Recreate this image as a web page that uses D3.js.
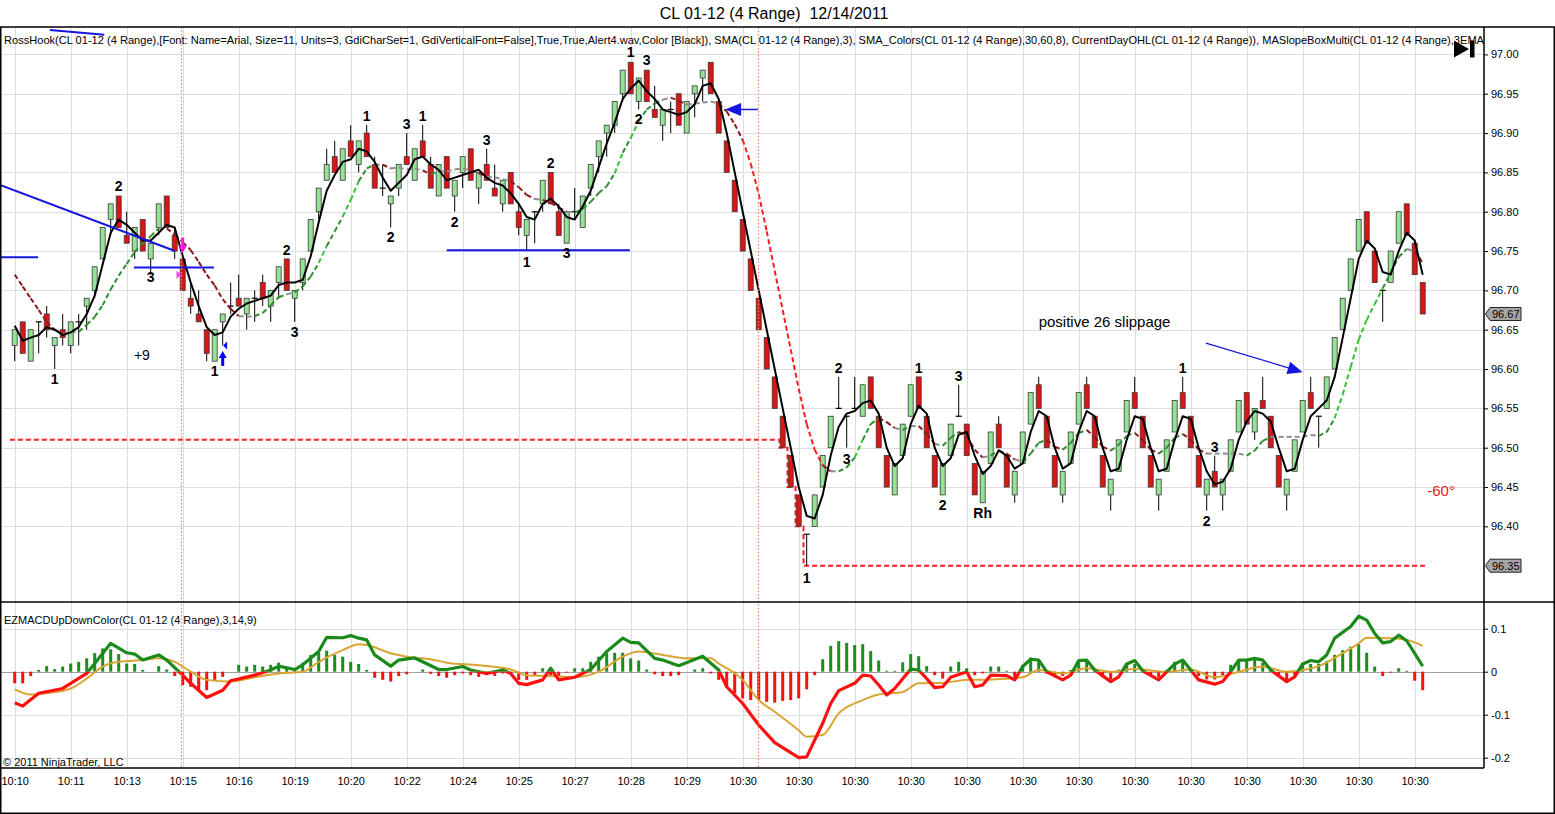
<!DOCTYPE html>
<html>
<head>
<meta charset="utf-8">
<script src="https://cdn.jsdelivr.net/npm/d3@7"></script>
<style>
  body { margin: 0; background: #fff; }
  svg { display: block; font-family: Arial, "Liberation Sans", sans-serif; }
</style>
</head>
<body>
<svg id="chart" width="1555" height="814"></svg>
<script>
// ---- donnees (barres range 4 ticks) ----
const opens = [
  96.63,96.66,96.61,96.66,96.67,96.63,96.65,96.63,96.66,96.68,
  96.70,96.74,96.79,96.82,96.77,96.75,96.79,96.74,96.78,96.82,
  96.77,96.74,96.69,96.67,96.65,96.61,96.66,96.68,96.69,96.67,
  96.69,96.71,96.68,96.71,96.74,96.69,96.71,96.75,96.80,96.84,
  96.87,96.84,96.89,96.86,96.90,96.86,96.83,96.81,96.83,96.87,
  96.84,96.89,96.86,96.82,96.87,96.82,96.85,96.88,96.83,96.86,
  96.83,96.81,96.85,96.80,96.77,96.80,96.81,96.85,96.80,96.76,
  96.80,96.78,96.83,96.87,96.90,96.91,96.95,96.99,96.94,96.98,
  96.93,96.91,96.93,96.95,96.90,96.95,96.97,96.99,96.94,96.89,
  96.84,96.79,96.74,96.69,96.64,96.59,96.54,96.49,96.44,96.39,
  96.40,96.45,96.50,96.55,96.54,96.55,96.54,96.59,96.54,96.49,
  96.44,96.49,96.54,96.59,96.54,96.49,96.44,96.49,96.54,96.53,
  96.48,96.43,96.48,96.53,96.49,96.44,96.48,96.53,96.58,96.54,
  96.49,96.44,96.48,96.53,96.58,96.54,96.49,96.44,96.47,96.52,
  96.57,96.54,96.49,96.44,96.47,96.52,96.57,96.54,96.49,96.44,
  96.47,96.44,96.47,96.52,96.57,96.52,96.56,96.54,96.49,96.44,
  96.47,96.52,96.57,96.54,96.55,96.60,96.65,96.70,96.75,96.80,
  96.75,96.70,96.71,96.76,96.81,96.76,96.71
];
const highs = [
  96.65,96.66,96.65,96.66,96.68,96.64,96.67,96.66,96.67,96.69,
  96.73,96.78,96.81,96.82,96.80,96.78,96.79,96.76,96.81,96.82,
  96.78,96.74,96.71,96.70,96.65,96.65,96.67,96.71,96.72,96.69,
  96.70,96.72,96.70,96.73,96.74,96.70,96.74,96.79,96.83,96.88,
  96.89,96.88,96.91,96.89,96.91,96.87,96.86,96.82,96.86,96.90,
  96.88,96.91,96.87,96.86,96.87,96.84,96.87,96.88,96.85,96.88,
  96.86,96.84,96.85,96.81,96.79,96.80,96.84,96.85,96.81,96.80,
  96.83,96.82,96.86,96.89,96.91,96.94,96.98,96.99,96.97,96.98,
  96.96,96.93,96.94,96.95,96.94,96.96,96.98,96.99,96.94,96.89,
  96.84,96.79,96.74,96.69,96.64,96.59,96.54,96.49,96.44,96.39,
  96.44,96.49,96.54,96.59,96.54,96.59,96.58,96.59,96.54,96.49,
  96.48,96.53,96.58,96.59,96.54,96.49,96.48,96.53,96.58,96.53,
  96.48,96.47,96.52,96.54,96.49,96.47,96.52,96.57,96.59,96.54,
  96.49,96.47,96.52,96.57,96.59,96.54,96.49,96.46,96.51,96.56,
  96.59,96.54,96.49,96.46,96.51,96.56,96.59,96.54,96.49,96.46,
  96.49,96.46,96.51,96.56,96.57,96.55,96.59,96.54,96.49,96.46,
  96.51,96.56,96.59,96.54,96.59,96.64,96.69,96.74,96.79,96.80,
  96.75,96.70,96.75,96.80,96.81,96.76,96.71
];
const lows = [
  96.61,96.62,96.61,96.62,96.64,96.60,96.63,96.62,96.63,96.65,
  96.69,96.74,96.77,96.78,96.76,96.74,96.75,96.72,96.77,96.78,
  96.74,96.70,96.67,96.66,96.61,96.61,96.63,96.67,96.68,96.65,
  96.66,96.68,96.66,96.69,96.70,96.66,96.70,96.75,96.79,96.84,
  96.85,96.84,96.87,96.85,96.87,96.83,96.82,96.78,96.82,96.86,
  96.84,96.87,96.83,96.82,96.83,96.80,96.83,96.84,96.81,96.84,
  96.82,96.80,96.81,96.77,96.75,96.76,96.80,96.81,96.77,96.76,
  96.79,96.78,96.82,96.85,96.87,96.90,96.94,96.95,96.93,96.94,
  96.92,96.89,96.90,96.91,96.90,96.92,96.94,96.95,96.90,96.85,
  96.80,96.75,96.70,96.65,96.60,96.55,96.50,96.45,96.40,96.35,
  96.40,96.45,96.50,96.55,96.50,96.55,96.54,96.55,96.50,96.45,
  96.44,96.49,96.54,96.55,96.50,96.45,96.44,96.49,96.54,96.49,
  96.44,96.43,96.48,96.50,96.45,96.43,96.48,96.53,96.55,96.50,
  96.45,96.43,96.48,96.53,96.55,96.50,96.45,96.42,96.47,96.52,
  96.55,96.50,96.45,96.42,96.47,96.52,96.55,96.50,96.45,96.42,
  96.45,96.42,96.47,96.52,96.53,96.51,96.55,96.50,96.45,96.42,
  96.47,96.52,96.55,96.50,96.55,96.60,96.65,96.70,96.75,96.76,
  96.71,96.66,96.71,96.76,96.77,96.72,96.67
];
const closes = [
  96.65,96.62,96.65,96.66,96.65,96.64,96.64,96.66,96.66,96.69,
  96.73,96.78,96.81,96.78,96.76,96.78,96.75,96.76,96.81,96.78,
  96.75,96.70,96.68,96.66,96.62,96.65,96.67,96.68,96.68,96.69,
  96.69,96.69,96.70,96.73,96.70,96.70,96.74,96.79,96.83,96.86,
  96.85,96.88,96.87,96.89,96.87,96.83,96.83,96.82,96.86,96.86,
  96.88,96.87,96.83,96.86,96.83,96.84,96.87,96.84,96.85,96.84,
  96.82,96.84,96.81,96.78,96.79,96.80,96.84,96.81,96.77,96.80,
  96.80,96.82,96.86,96.89,96.91,96.94,96.98,96.95,96.97,96.94,
  96.92,96.93,96.93,96.91,96.94,96.96,96.98,96.95,96.90,96.85,
  96.80,96.75,96.70,96.65,96.60,96.55,96.50,96.45,96.40,96.39,
  96.44,96.49,96.54,96.55,96.54,96.55,96.58,96.55,96.50,96.45,
  96.48,96.53,96.58,96.55,96.50,96.45,96.48,96.53,96.54,96.49,
  96.44,96.47,96.52,96.50,96.45,96.47,96.52,96.57,96.55,96.50,
  96.45,96.47,96.52,96.57,96.55,96.50,96.45,96.46,96.51,96.56,
  96.55,96.50,96.45,96.46,96.51,96.56,96.55,96.50,96.45,96.46,
  96.45,96.46,96.51,96.56,96.53,96.55,96.55,96.50,96.45,96.46,
  96.51,96.56,96.55,96.54,96.59,96.64,96.69,96.74,96.79,96.76,
  96.71,96.70,96.75,96.80,96.77,96.72,96.67
];

// debut des moyennes (historique hors ecran)
const smaFastLead = [96.655, 96.636];
const smaSlowLead = [96.72, 96.705, 96.69, 96.675, 96.66, 96.65, 96.645];

// etiquettes de l'axe du temps (une toutes les 7 barres)
const tickBars = [0,7,14,21,28,35,42,49,56,63,70,77,84,91,98,105,112,119,126,133,140,147,154,161,168,175];
const tickLabels = ["10:10","10:11","10:13","10:15","10:16","10:19","10:20","10:22","10:24","10:25","10:27","10:28","10:29",
  "10:30","10:30","10:30","10:30","10:30","10:30","10:30","10:30","10:30","10:30","10:30","10:30","10:30"];
const priceTicks = [96.40,96.45,96.50,96.55,96.60,96.65,96.70,96.75,96.80,96.85,96.90,96.95,97.00];
const priceMarkers = [96.67, 96.35];
const macdTicks = [0.1, 0, -0.1, -0.2];

// plus bas du jour (CurrentDayOHL)
const dayLowBars = [-0.6, 95.6, 96.6, 97.6, 98.6, 176.6];
const dayLowVals = [96.51, 96.50, 96.45, 96.40, 96.35, 96.35];

// EZMACD : ligne, signal, histogramme
const macdBars = [0,1,3,6,9,10,12,14,15,16,18,19,21,22,24,26,27,30,32,33,35,36,38,39,41,42,43,44,45,47,48,50,51,53,54,56,57,59,61,62,63,64,66,67,68,70,72,74,76,77,78,80,81,83,86,88,89,91,93,95,98,99,101,102,103,105,106,107,108,109,110,112,113,114,115,116,117,119,120,121,122,124,125,126,127,128,129,131,132,133,134,135,137,138,139,140,141,143,145,146,147,148,150,151,152,153,154,155,156,157,159,160,161,162,163,164,165,167,168,169,170,171,172,173,174,176];
const macdVals = [-0.072,-0.080,-0.050,-0.039,-0.004,0.019,0.066,0.044,0.041,0.027,0.039,0.027,-0.008,-0.027,-0.060,-0.043,-0.021,-0.008,0.004,0.013,0.005,0.016,0.047,0.080,0.079,0.084,0.078,0.074,0.039,0.013,0.027,0.032,0.023,0.005,0.005,0.012,0.004,-0.004,0.004,-0.004,-0.027,-0.030,-0.019,0.008,-0.019,-0.013,0.005,0.047,0.078,0.068,0.067,0.031,0.027,0.014,0.036,0.004,-0.035,-0.074,-0.124,-0.165,-0.200,-0.198,-0.120,-0.074,-0.044,-0.027,-0.008,-0.010,-0.031,-0.054,-0.039,0.006,0.004,-0.016,-0.037,-0.035,-0.013,0.000,-0.035,-0.031,-0.008,-0.009,-0.019,0.012,0.029,0.027,0.000,-0.019,-0.008,0.026,0.027,0.004,-0.023,-0.012,0.018,0.026,0.002,-0.019,0.018,0.027,0.004,-0.019,-0.029,-0.023,0.000,0.027,0.027,0.031,0.027,0.004,-0.023,-0.012,0.018,0.026,0.023,0.039,0.078,0.105,0.129,0.120,0.089,0.067,0.070,0.085,0.072,0.013];
const signalBars = [0,2,4,7,9,11,13,16,18,20,22,24,27,30,33,36,38,41,43,44,47,49,52,54,58,62,64,67,70,73,76,78,81,84,87,88,91,93,95,98,99,101,103,106,108,111,113,116,119,122,126,128,131,134,137,140,144,147,150,153,156,159,161,163,166,168,169,172,174,176];
const signalVals = [-0.041,-0.053,-0.050,-0.039,-0.016,0.012,0.023,0.027,0.031,0.023,0.000,-0.019,-0.023,-0.013,-0.004,0.000,0.023,0.050,0.064,0.062,0.043,0.035,0.029,0.021,0.015,0.005,-0.008,-0.010,-0.013,0.000,0.035,0.047,0.039,0.031,0.031,0.019,-0.019,-0.066,-0.093,-0.136,-0.151,-0.147,-0.097,-0.066,-0.053,-0.047,-0.027,-0.026,-0.019,-0.018,-0.013,0.004,-0.004,0.008,0.000,0.006,0.000,0.005,-0.013,0.000,0.012,0.000,0.004,0.013,0.043,0.066,0.079,0.078,0.074,0.060];
const histVals = [
  -0.027,-0.027,-0.010,0.004,0.013,0.006,0.012,0.019,0.023,0.031,
  0.043,0.054,0.052,0.041,0.019,0.018,0.004,0.000,0.013,0.005,
  -0.010,-0.031,-0.035,-0.043,-0.043,-0.019,-0.012,0.000,0.016,0.012,
  0.016,0.012,0.016,0.021,0.010,0.005,0.021,0.039,0.044,0.049,
  0.039,0.035,0.023,0.018,0.004,-0.014,-0.019,-0.023,-0.010,-0.006,
  0.000,0.005,-0.005,-0.010,-0.014,-0.008,-0.004,-0.008,-0.012,-0.008,
  -0.010,-0.004,-0.005,-0.019,-0.019,-0.010,0.008,-0.008,-0.010,-0.002,
  0.008,0.008,0.023,0.035,0.043,0.044,0.044,0.031,0.026,0.005,
  -0.006,-0.010,-0.010,-0.008,0.000,0.005,0.008,-0.004,-0.019,-0.035,
  -0.050,-0.062,-0.066,-0.066,-0.070,-0.072,-0.068,-0.066,-0.062,-0.041,
  -0.008,0.029,0.060,0.071,0.067,0.062,0.064,0.048,0.026,0.002,
  0.002,0.022,0.041,0.036,0.013,-0.008,-0.016,0.012,0.023,0.008,
  -0.008,-0.004,0.012,0.012,0.002,-0.013,0.016,0.033,0.023,-0.004,
  -0.013,-0.010,0.004,0.023,0.023,0.005,-0.013,-0.018,0.005,0.019,
  0.018,0.004,-0.010,-0.013,0.004,0.023,0.023,0.002,-0.010,-0.018,
  -0.018,-0.008,0.016,0.029,0.027,0.029,0.021,0.004,-0.010,-0.023,
  -0.008,0.021,0.018,0.018,0.025,0.039,0.050,0.058,0.064,0.044,
  0.012,-0.010,-0.002,0.008,0.002,-0.021,-0.043
];

// textes RossHook (barre, prix)
const labelTexts = ["1","2","3","1","2","3","1","2","3","1","2","3","1","2","3","1","3","2","1","2","3","1","2","3","Rh","1","2","3"];
const labelBars = [5,13,17,25,34,35,44,47,49,51,55,59,64,67,69,77,79,78,99,103,104,113,116,118,121,146,149,150];
const labelPrices = [96.587,96.833,96.717,96.598,96.751,96.647,96.922,96.768,96.912,96.922,96.787,96.891,96.736,96.862,96.747,97.003,96.993,96.918,96.335,96.601,96.486,96.601,96.427,96.591,96.417,96.601,96.407,96.501];

const headerText = "RossHook(CL 01-12 (4 Range),[Font: Name=Arial, Size=11, Units=3, GdiCharSet=1, GdiVerticalFont=False],True,True,Alert4.wav,Color [Black]), SMA(CL 01-12 (4 Range),3), SMA_Colors(CL 01-12 (4 Range),30,60,8), CurrentDayOHL(CL 01-12 (4 Range)), MASlopeBoxMulti(CL 01-12 (4 Range),3EMA";

// ---- mise en page ----
const svg = d3.select("#chart");
const W = 1555, H = 814;
const axisX = 1484;
const panelTop = 27, panelSplit = 602, macdBottom = 768;

const x = d3.scaleLinear().domain([0, 176]).range([14.7, 1422.7]);
const y = d3.scaleLinear().domain([96.35, 97.00]).range([565.7, 54.4]);
const ym = d3.scaleLinear().domain([-0.2, 0.1]).range([757.7, 628.7]);

const bars = d3.range(closes.length);

// moyennes mobiles
const smaFast = closes.map((c, i) => i < smaFastLead.length ? smaFastLead[i] : d3.mean(closes.slice(i - 2, i + 1)));
const smaSlow = closes.map((c, i) => i < smaSlowLead.length ? smaSlowLead[i] : d3.mean(closes.slice(i - 7, i + 1)));

const defs = svg.append("defs");
defs.append("clipPath").attr("id", "clipPrice").append("rect")
  .attr("x", 0).attr("y", panelTop).attr("width", axisX).attr("height", panelSplit - panelTop);
defs.append("clipPath").attr("id", "clipMacd").append("rect")
  .attr("x", 0).attr("y", panelSplit).attr("width", axisX).attr("height", macdBottom - panelSplit);
defs.append("clipPath").attr("id", "clipUp").append("rect")
  .attr("x", 0).attr("y", panelSplit).attr("width", axisX).attr("height", ym(0) - panelSplit);
defs.append("clipPath").attr("id", "clipDown").append("rect")
  .attr("x", 0).attr("y", ym(0)).attr("width", axisX).attr("height", macdBottom - ym(0));

// titre
svg.append("text")
  .attr("x", 774).attr("y", 19)
  .attr("text-anchor", "middle")
  .attr("font-size", "16px")
  .style("white-space", "pre")
  .text("CL 01-12 (4 Range)  12/14/2011");

// grilles
const grid = svg.append("g").attr("stroke", "#dddddd").attr("stroke-width", 1);
grid.selectAll("line.v").data(tickBars).join("line")
  .attr("x1", d => Math.round(x(d)) + 0.5).attr("x2", d => Math.round(x(d)) + 0.5)
  .attr("y1", panelTop).attr("y2", macdBottom);
grid.selectAll("line.h").data(priceTicks).join("line")
  .attr("x1", 0).attr("x2", axisX)
  .attr("y1", d => Math.round(y(d)) + 0.5).attr("y2", d => Math.round(y(d)) + 0.5);
grid.selectAll("line.m").data(macdTicks.filter(d => d !== 0)).join("line")
  .attr("x1", 0).attr("x2", axisX)
  .attr("y1", d => Math.round(ym(d)) + 0.5).attr("y2", d => Math.round(ym(d)) + 0.5);

// ---- panneau des prix ----
const gp = svg.append("g").attr("clip-path", "url(#clipPrice)");

// texte des indicateurs
gp.append("text")
  .attr("x", 4).attr("y", 44)
  .attr("font-size", "11px")
  .attr("textLength", 1480).attr("lengthAdjust", "spacingAndGlyphs")
  .text(headerText);

// plus bas du jour
gp.append("path")
  .datum(dayLowBars.map((b, i) => [b, dayLowVals[i]]))
  .attr("fill", "none").attr("stroke", "#ff2020").attr("stroke-width", 2)
  .attr("stroke-dasharray", "5,3")
  .attr("d", d3.line().x(d => x(d[0])).y(d => y(d[1])).curve(d3.curveStepAfter));

// bougies
const candles = gp.append("g").selectAll("g").data(bars).join("g");
candles.append("line")
  .attr("x1", i => x(i)).attr("x2", i => x(i))
  .attr("y1", i => y(highs[i])).attr("y2", i => y(lows[i]))
  .attr("stroke", "#000").attr("stroke-width", 1);
candles.filter(i => opens[i] !== closes[i]).append("rect")
  .attr("x", i => x(i) - 2.5).attr("width", 5)
  .attr("y", i => y(Math.max(opens[i], closes[i])))
  .attr("height", i => Math.abs(y(opens[i]) - y(closes[i])))
  .attr("fill", i => closes[i] > opens[i] ? "#94e394" : "#e01212")
  .attr("stroke", "#3a3a3a").attr("stroke-width", 0.8);
candles.filter(i => opens[i] === closes[i]).append("line")
  .attr("x1", i => x(i) - 3).attr("x2", i => x(i) + 3)
  .attr("y1", i => y(opens[i])).attr("y2", i => y(opens[i]))
  .attr("stroke", "#000").attr("stroke-width", 1.2);

// SMA_Colors (8) : couleur selon la pente
const slopeColor = d => {
  const a = Math.abs(d);
  if (a < 0.003) return "#8e8e8e";
  if (d > 0) return a > 0.02 ? "#33c233" : "#2e8f2e";
  return a > 0.02 ? "#ff1c1c" : "#8b1a1a";
};
gp.append("g").selectAll("line")
  .data(d3.pairs(bars))
  .join("line")
  .attr("x1", d => x(d[0])).attr("y1", d => y(smaSlow[d[0]]))
  .attr("x2", d => x(d[1])).attr("y2", d => y(smaSlow[d[1]]))
  .attr("stroke", d => slopeColor(smaSlow[d[1]] - smaSlow[d[0]]))
  .attr("stroke-width", 2).attr("stroke-dasharray", "5,3");

// SMA (3)
gp.append("path")
  .datum(bars)
  .attr("fill", "none").attr("stroke", "#000").attr("stroke-width", 2)
  .attr("stroke-linejoin", "round")
  .attr("d", d3.line().x(i => x(i)).y(i => y(smaFast[i])));

// lignes bleues tracees a la main
const blue = "#1515e0";
const seg = (p0, p1, w) => gp.append("line")
  .attr("x1", x(p0[0])).attr("y1", y(p0[1]))
  .attr("x2", x(p1[0])).attr("y2", y(p1[1]))
  .attr("stroke", blue).attr("stroke-width", w);
seg([-1.84, 96.834], [20.04, 96.750], 2);
seg([4.4, 97.031], [11.2, 97.025], 2);
seg([-1.84, 96.742], [2.91, 96.742], 2);
seg([14.9, 96.729], [24.9, 96.729], 2);
seg([54.0, 96.751], [76.9, 96.751], 2);

// fleche d'entree (vers la gauche)
{
  const tx = x(88.8), ty = y(96.930);
  gp.append("line").attr("x1", tx + 14).attr("x2", x(92.9)).attr("y1", ty).attr("y2", ty)
    .attr("stroke", blue).attr("stroke-width", 1.5);
  gp.append("path").attr("fill", blue)
    .attr("d", `M${tx},${ty}L${tx + 16},${ty - 6.5}L${tx + 16},${ty + 6.5}Z`);
}

// fleche "slippage"
{
  const x0 = x(148.9), y0 = y(96.633), x1 = x(160.99), y1 = y(96.596);
  const a = Math.atan2(y1 - y0, x1 - x0);
  const L = 15, hw = 6.5;
  const bx = x1 - L * Math.cos(a), by = y1 - L * Math.sin(a);
  gp.append("line").attr("x1", x0).attr("y1", y0).attr("x2", bx).attr("y2", by)
    .attr("stroke", blue).attr("stroke-width", 1.2);
  gp.append("path").attr("fill", blue)
    .attr("d", `M${x1},${y1}L${bx + hw * Math.sin(a)},${by - hw * Math.cos(a)}L${bx - hw * Math.sin(a)},${by + hw * Math.cos(a)}Z`);
}

// marqueurs RossHook (fleches)
{
  const mx = x(21), mt = y(96.767), mb = y(96.748);
  gp.append("line").attr("x1", mx).attr("x2", mx).attr("y1", mt).attr("y2", mb - 5)
    .attr("stroke", "#ff00ff").attr("stroke-width", 3);
  gp.append("path").attr("fill", "#ff00ff")
    .attr("d", `M${mx - 4},${mb - 7}L${mx + 4},${mb - 7}L${mx},${mb}Z`);
  const sx = x(20.6), sy = y(96.72);
  gp.append("path").attr("fill", "#ff40ff")
    .attr("d", `M${sx - 3},${sy - 4}L${sx + 2},${sy}L${sx - 3},${sy + 4}Z`);

  const ux = x(26), ut = y(96.623), ub = y(96.604);
  gp.append("line").attr("x1", ux).attr("x2", ux).attr("y1", ut + 5).attr("y2", ub)
    .attr("stroke", "#0000ff").attr("stroke-width", 3);
  gp.append("path").attr("fill", "#0000ff")
    .attr("d", `M${ux - 4},${ut + 7}L${ux + 4},${ut + 7}L${ux},${ut}Z`);
  const lx = x(26.05), ly = y(96.630);
  gp.append("path").attr("fill", "#0000ff")
    .attr("d", `M${lx},${ly}L${lx + 4},${ly - 4}L${lx + 4},${ly + 4}Z`);
}

// chiffres 1-2-3
gp.append("g").selectAll("text")
  .data(labelTexts)
  .join("text")
  .attr("x", (d, i) => x(labelBars[i]))
  .attr("y", (d, i) => y(labelPrices[i]))
  .attr("dy", "0.36em")
  .attr("text-anchor", "middle")
  .attr("font-size", "14px").attr("font-weight", "bold")
  .text(d => d);

gp.append("text").attr("x", x(15.9)).attr("y", y(96.618)).attr("dy", "0.36em")
  .attr("text-anchor", "middle").attr("font-size", "14px").text("+9");
gp.append("text").attr("x", x(128.0)).attr("y", y(96.66)).attr("dy", "0.36em")
  .attr("font-size", "15px").text("positive 26 slippage");
gp.append("text").attr("x", x(178.3)).attr("y", y(96.445)).attr("dy", "0.36em")
  .attr("text-anchor", "middle").attr("font-size", "15px").attr("fill", "#e02020").text("-60°");

// icone ▶|
gp.append("path").attr("fill", "#000").attr("d", "M1454,40.5L1469,49L1454,57.5Z");
gp.append("rect").attr("x", 1470).attr("y", 40.5).attr("width", 4.5).attr("height", 17).attr("fill", "#000");

// ---- panneau MACD ----
const gm = svg.append("g").attr("clip-path", "url(#clipMacd)");

gm.append("line").attr("x1", 0).attr("x2", axisX)
  .attr("y1", Math.round(ym(0)) + 0.5).attr("y2", Math.round(ym(0)) + 0.5)
  .attr("stroke", "#a0a0a0").attr("stroke-width", 1);

gm.append("g").selectAll("rect")
  .data(bars)
  .join("rect")
  .attr("x", i => x(i) - 1.5).attr("width", 3)
  .attr("y", i => Math.min(ym(0), ym(histVals[i])))
  .attr("height", i => Math.abs(ym(histVals[i]) - ym(0)))
  .attr("fill", i => histVals[i] >= 0 ? "#1f8c1f" : "#ff1010");

gm.append("path")
  .datum(signalBars.map((b, i) => [b, signalVals[i]]))
  .attr("fill", "none").attr("stroke", "#d9a530").attr("stroke-width", 2)
  .attr("d", d3.line().x(d => x(d[0])).y(d => ym(d[1])).curve(d3.curveMonotoneX));

const macdLine = d3.line().x(d => x(d[0])).y(d => ym(d[1]));
const macdPts = macdBars.map((b, i) => [b, macdVals[i]]);
[["clipUp", "#1a8a1a"], ["clipDown", "#ff1010"]].forEach(([clip, col]) => {
  gm.append("g").attr("clip-path", `url(#${clip})`)
    .append("path").datum(macdPts)
    .attr("fill", "none").attr("stroke", col).attr("stroke-width", 3.2)
    .attr("stroke-linejoin", "round")
    .attr("d", macdLine);
});

gm.append("text").attr("x", 4).attr("y", 624).attr("font-size", "11px")
  .text("EZMACDUpDownColor(CL 01-12 (4 Range),3,14,9)");
gm.append("text").attr("x", 3).attr("y", 766).attr("font-size", "11px")
  .text("© 2011 NinjaTrader, LLC");

// lignes pointillees orange (10:15 et entree)
svg.append("g").selectAll("line")
  .data([181, 758])
  .join("line")
  .attr("x1", d => d + 0.5).attr("x2", d => d + 0.5)
  .attr("y1", panelTop).attr("y2", macdBottom)
  .attr("stroke", "#f5875f").attr("stroke-width", 1.2).attr("stroke-dasharray", "1.5,2");

// ---- axes ----
const yAxis = svg.append("g").attr("transform", `translate(${axisX},0)`)
  .call(d3.axisRight(y).tickValues(priceTicks).tickFormat(d3.format(".2f")).tickSize(4).tickPadding(3));
yAxis.select(".domain").remove();
yAxis.selectAll("text").attr("font-size", "11px").attr("font-family", "Arial, 'Liberation Sans', sans-serif");

const mAxis = svg.append("g").attr("transform", `translate(${axisX},0)`)
  .call(d3.axisRight(ym).tickValues(macdTicks).tickFormat(d => d === 0 ? "0" : String(d)).tickSize(4).tickPadding(3));
mAxis.select(".domain").remove();
mAxis.selectAll("text").attr("font-size", "11px").attr("font-family", "Arial, 'Liberation Sans', sans-serif");

const xAxis = svg.append("g").attr("transform", `translate(0,${macdBottom})`)
  .call(d3.axisBottom(x).tickValues(tickBars).tickFormat((d, i) => tickLabels[i]).tickSize(0).tickPadding(9));
xAxis.select(".domain").remove();
xAxis.selectAll("text").attr("font-size", "11px").attr("font-family", "Arial, 'Liberation Sans', sans-serif");

// etiquettes de prix grises
const mk = svg.append("g").selectAll("g").data(priceMarkers).join("g")
  .attr("transform", d => `translate(${axisX},${y(d)})`);
mk.append("path")
  .attr("d", "M1.5,0L6,-6.5L37,-6.5L37,6.5L6,6.5Z")
  .attr("fill", "#a6a6a6").attr("stroke", "#222").attr("stroke-width", 1);
mk.append("text").attr("x", 8).attr("dy", "0.35em").attr("font-size", "11px")
  .text(d => d3.format(".2f")(d));

// cadres
const frame = svg.append("g").attr("stroke", "#000").attr("stroke-width", 1.5).attr("fill", "none");
frame.append("rect").attr("x", 0.75).attr("y", panelTop).attr("width", W - 1.5).attr("height", H - panelTop - 0.75);
frame.append("line").attr("x1", 0).attr("x2", W).attr("y1", panelSplit).attr("y2", panelSplit);
frame.append("line").attr("x1", axisX).attr("x2", axisX).attr("y1", panelTop).attr("y2", macdBottom);
frame.append("line").attr("x1", 0).attr("x2", axisX).attr("y1", macdBottom).attr("y2", macdBottom);
</script>
</body>
</html>
